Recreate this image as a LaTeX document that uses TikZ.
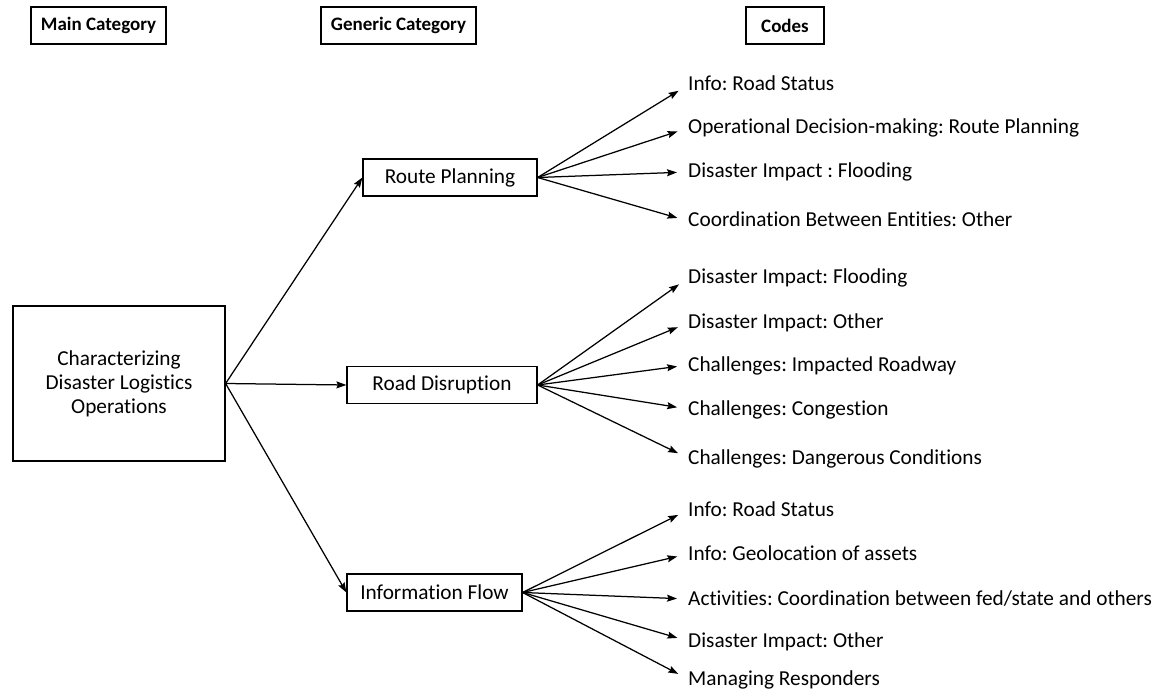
\documentclass[tikz,border=0pt]{standalone}
\usepackage{fontspec}
\setmainfont{Carlito}[Ligatures=NoCommon]
\frenchspacing
\usetikzlibrary{positioning, arrows.meta}

\begin{document}
\begin{tikzpicture}[
    x=1pt, y=-1pt,
    font=\fontsize{21.3}{24}\selectfont,
    catbox/.style={draw, line width=1.3pt, minimum height=37pt, inner xsep=6pt, font=\fontsize{19}{23}\selectfont\bfseries},
    genbox/.style={draw, line width=1.2pt, minimum height=37pt},
    mainbox/.style={draw, line width=1.2pt, minimum width=212pt, minimum height=155pt, align=center},
    codetext/.style={anchor=west, inner sep=0pt, text height=16pt, text depth=4pt},
    every edge/.append style={line width=1.25pt, >={Stealth[length=10pt, width=7pt, inset=1.5pt]}, shorten >=11pt}
]
   \useasboundingbox (0,0) rectangle (1161,692);

   % Column headers
   \node[catbox, minimum width=135pt] (hmain) at (98.5,25.5) {Main Category};
   \node[catbox, minimum width=155pt] (hgen) at (398.5,25.5) {Generic Category};
   \node[catbox, minimum width=78pt] (hcodes) at (785,25.5) {Codes};

   % Main and generic categories
   \node[mainbox] (main) at (119,383.5) {Characterizing\\ Disaster Logistics\\ Operations};
   \node[genbox, minimum width=174pt] (rp) at (450,177.5) {Route Planning};
   \node[genbox, minimum width=190pt] (rd) at (442,385) {Road Disruption};
   \node[genbox, minimum width=175pt] (inf) at (434.5,592.5) {Information Flow};

   % Codes for route planning
   \node[codetext] (rp1) at (688,85) {Info: Road Status};
   \node[codetext] (rp2) at (688,128) {Operational Decision-making: Route Planning};
   \node[codetext] (rp3) at (688,172) {Disaster Impact : Flooding};
   \node[codetext] (rp4) at (688,221) {Coordination Between Entities: Other};

   % Codes for road disruption
   \node[codetext] (rd1) at (688,278) {Disaster Impact: Flooding};
   \node[codetext] (rd2) at (688,323) {Disaster Impact: Other};
   \node[codetext] (rd3) at (688,365) {Challenges: Impacted Roadway};
   \node[codetext] (rd4) at (688,409) {Challenges: Congestion};
   \node[codetext] (rd5) at (688,458) {Challenges: Dangerous Conditions};

   % Codes for information flow
   \node[codetext] (in1) at (688,510) {Info: Road Status};
   \node[codetext] (in2) at (688,554) {Info: Geolocation of assets};
   \node[codetext] (in3) at (688,599) {Activities: Coordination between fed/state and others};
   \node[codetext] (in4) at (688,641) {Disaster Impact: Other};
   \node[codetext] (in5) at (688,679) {Managing Responders};

   % Main -> generic
   \path[->]
   (main.east) edge [shorten >=0pt] (rp.west)
   (main.east) edge [shorten >=0pt] (rd.west)
   (main.east) edge [shorten >=0pt] (inf.west);

   % Generic -> codes
   \path[->]
   (rp.east) edge (rp1.west)
   (rp.east) edge (rp2.west)
   (rp.east) edge (rp3.west)
   (rp.east) edge (rp4.west);

   \path[->]
   (rd.east) edge (rd1.west)
   (rd.east) edge (rd2.west)
   (rd.east) edge (rd3.west)
   (rd.east) edge (rd4.west)
   (rd.east) edge (rd5.west);

   \path[->]
   (inf.east) edge (in1.west)
   (inf.east) edge (in2.west)
   (inf.east) edge (in3.west)
   (inf.east) edge (in4.west)
   (inf.east) edge (in5.west);
\end{tikzpicture}
\end{document}
